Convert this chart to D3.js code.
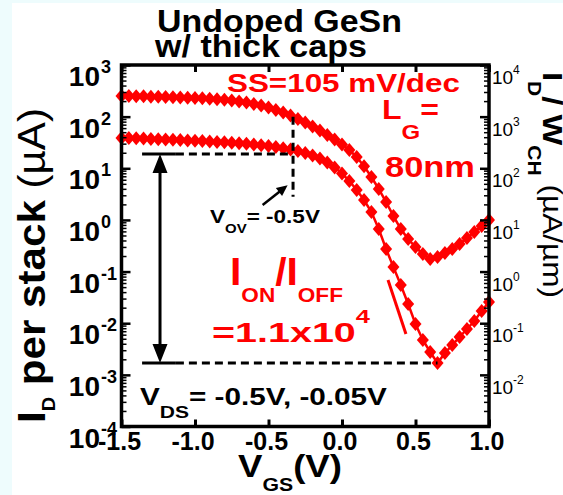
<!DOCTYPE html>
<html>
<head>
<meta charset="utf-8">
<script src="https://cdn.jsdelivr.net/npm/d3@7"></script>
<style>
body { margin: 0; background: #fff; }
svg text { font-family: "Liberation Sans", Arial, sans-serif; white-space: pre; }
</style>
</head>
<body>
<script>
// VGS (V)
const vgs = [-1.5, -1.45, -1.4, -1.35, -1.3, -1.25, -1.2, -1.15, -1.1, -1.05,
             -1.0, -0.95, -0.9, -0.85, -0.8, -0.75, -0.7, -0.65, -0.6, -0.55,
             -0.5, -0.45, -0.4, -0.35, -0.3, -0.25, -0.2, -0.15, -0.1, -0.05,
             0.0, 0.05, 0.1, 0.15, 0.2, 0.25, 0.3, 0.35, 0.4, 0.45,
             0.5, 0.55, 0.6, 0.65, 0.7, 0.75, 0.8, 0.85, 0.9, 0.95, 1.0];

// ID per stack (uA), VDS = -0.5V
const idHigh = [251, 251, 249, 247, 244, 242, 240, 238, 236, 233,
                230, 226, 222, 218, 212, 205, 196, 188, 176, 164,
                150, 135, 120, 105, 90.0, 77.0, 64.5, 54.0, 44.1, 36.0,
                28.8, 22.6, 16.5, 11.0, 6.77, 3.97, 2.22, 1.19, 0.667, 0.427,
                0.299, 0.219, 0.175, 0.191, 0.229, 0.273, 0.342, 0.447, 0.583, 0.762, 1.00];

// ID per stack (uA), VDS = -0.05V
const idLow = [38.5, 38.5, 38.1, 37.6, 37.1, 36.6, 36.1, 35.6, 35.1, 34.7,
               34.2, 33.6, 33.0, 32.4, 31.9, 31.1, 30.5, 29.7, 28.9, 28.0,
               27.0, 25.8, 24.5, 23.1, 21.6, 19.8, 17.7, 15.5, 12.9, 10.4,
               7.92, 5.67, 3.80, 2.43, 1.42, 0.667, 0.273, 0.122, 0.0549, 0.0235,
               0.00966, 0.00473, 0.00277, 0.00169, 0.00265, 0.00378, 0.00541, 0.00773, 0.0110, 0.0173, 0.0258];

// Graduations
const xTicks = [-1.5, -1.0, -0.5, 0.0, 0.5, 1.0];
const xTickLabels = ["-1.5", "-1.0", "-0.5", "0.0", "0.5", "1.0"];
const yLeftExp = [3, 2, 1, 0, -1, -2, -3, -4];
const yRightExp = [4, 3, 2, 1, 0, -1, -2];

// Annotations
const ionIoff = [18.9, 0.00169];
const vovGate = -0.333;
const vovTop = 100;
const vovBottom = 2.8;
const vovArrow = [[-0.54, 1.95], [-0.37, 4.7]];
const arrowGate = -1.238;
const lineStart = -1.36;
const solidEnd = -1.13;
const ioffEnd = 0.65;
const ssLine = [[0.313, 0.0687], [0.435, 0.00618]];

const rouge = "#ff0000";

let svg = d3.select("body").append("svg")
    .attr("width", 563)
    .attr("height", 495);

// fond : bande cyan a gauche et en haut
svg.append("rect").attr("width", 563).attr("height", 495).attr("fill", "#eefcfd");
svg.append("rect").attr("x", 12).attr("y", 3).attr("width", 551).attr("height", 492).attr("fill", "#fff");

let x = d3.scaleLinear().domain([-1.5, 1.0]).range([121.5, 489]);
let y = d3.scaleLog().domain([1e-4, 1e3]).range([426.5, 65]);
let yR = d3.scaleLog().domain([1e-3, 1e4]).range([426.5, 65]);

// courbes : une ligne + des losanges
let g = svg.append("g");
[idHigh, idLow].forEach(function(serie) {
    g.append("path")
        .attr("d", d3.line()(vgs.map((v, i) => [x(v), y(serie[i])])))
        .attr("fill", "none")
        .attr("stroke", rouge)
        .attr("stroke-width", 2.5);
    g.append("g").selectAll("path").data(vgs).enter()
        .append("path")
        .attr("d", "M0,-7L6,0L0,7L-6,0Z")
        .attr("transform", (v, i) => "translate(" + x(v) + "," + y(serie[i]) + ")")
        .attr("fill", rouge);
});

// ligne de pente SS
svg.append("line")
    .attr("x1", x(ssLine[0][0])).attr("y1", y(ssLine[0][1]))
    .attr("x2", x(ssLine[1][0])).attr("y2", y(ssLine[1][1]))
    .attr("stroke", rouge).attr("stroke-width", 3);

// axes
function minors(lo, hi) {
    let m = [];
    for (let e = lo; e < hi; e++) for (let k = 2; k < 10; k++) m.push(k * Math.pow(10, e));
    return m;
}
function styleAxe(sel, w) {
    sel.select(".domain").remove();
    sel.selectAll("line").attr("stroke", "#000").attr("stroke-width", w);
}
svg.append("g").attr("transform", "translate(121.5,0)")
    .call(d3.axisLeft(y).tickValues(yLeftExp.map(e => Math.pow(10, e))).tickSize(-9).tickFormat(""))
    .call(styleAxe, 2.5);
svg.append("g").attr("transform", "translate(121.5,0)")
    .call(d3.axisLeft(y).tickValues(minors(-4, 3)).tickSize(-5).tickFormat(""))
    .call(styleAxe, 1.5);
svg.append("g").attr("transform", "translate(489,0)")
    .call(d3.axisRight(yR).tickValues(yRightExp.map(e => Math.pow(10, e))).tickSize(-9).tickFormat(""))
    .call(styleAxe, 2.5);
svg.append("g").attr("transform", "translate(489,0)")
    .call(d3.axisRight(yR).tickValues(minors(-3, 4)).tickSize(-5).tickFormat(""))
    .call(styleAxe, 1.5);
svg.append("g").attr("transform", "translate(0,426.5)")
    .call(d3.axisBottom(x).tickValues(xTicks).tickSize(-7).tickFormat(""))
    .call(styleAxe, 3);
svg.append("g").attr("transform", "translate(0,65)")
    .call(d3.axisTop(x).tickValues(xTicks).tickSize(-7).tickFormat(""))
    .call(styleAxe, 3);

// cadre
svg.append("rect")
    .attr("x", 121.5).attr("y", 65)
    .attr("width", 489 - 121.5).attr("height", 426.5 - 65)
    .attr("fill", "none").attr("stroke", "#000").attr("stroke-width", 3.5);

// etiquettes des graduations
svg.selectAll(".xlab").data(xTicks).enter().append("text")
    .attr("x", d => x(d) - 2).attr("y", 450)
    .attr("text-anchor", "middle").attr("font-size", 25).attr("font-weight", "bold")
    .text((d, i) => xTickLabels[i]);

yLeftExp.forEach(function(e) {
    let ty = y(Math.pow(10, e));
    svg.append("text").attr("x", 100).attr("y", ty + 21)
        .attr("text-anchor", "end").attr("font-size", 28).attr("font-weight", "bold").text("10");
    svg.append("text").attr("x", 101).attr("y", ty + 8)
        .attr("font-size", 18).attr("font-weight", "bold").text(e);
});
yRightExp.forEach(function(e) {
    let ty = yR(Math.pow(10, e));
    svg.append("text").attr("x", 492).attr("y", ty + 19)
        .attr("font-size", 19).text("10");
    svg.append("text").attr("x", 513).attr("y", ty + 9)
        .attr("font-size", 12).text(e);
});

// texte compose (indices / exposants), etire a la longueur voulue
function texte(parts, o) {
    let t = svg.append("text").attr("fill", o.fill || "#000");
    let prev = 0;
    parts.forEach(function(p) {
        t.append("tspan").text(p[0])
            .attr("font-size", p[1])
            .attr("dy", p[2] - prev)
            .attr("font-weight", p[3] || "bold");
        prev = p[2];
    });
    let s = o.len ? o.len / t.node().getComputedTextLength() : 1;
    t.attr("transform", "translate(" + o.x + "," + o.y + ")" + (o.rot ? " rotate(" + o.rot + ")" : "") + " scale(" + s + ",1)");
    return t;
}

texte([["Undoped GeSn", 32, 0]], {x: 157, y: 32, len: 245});
texte([["w/ thick caps", 32, 0]], {x: 155, y: 57, len: 212});
texte([["SS=105 mV/dec", 26, 0]], {x: 227, y: 92, len: 233, fill: rouge});
texte([["L", 28, 0], ["G", 21, 20], ["=", 28, 0]], {x: 382, y: 119, len: 57, fill: rouge});
texte([["80nm", 30, 0]], {x: 385, y: 177, len: 90, fill: rouge});
texte([["I", 38, 0], ["ON", 21, 17], ["/", 38, 0], ["I", 38, 0], ["OFF", 21, 17]], {x: 230, y: 285, len: 113, fill: rouge});
texte([["=1.1x10", 28, 0], ["4", 18, -19]], {x: 212, y: 342, len: 158, fill: rouge});
texte([["V", 18, 0], ["OV", 12, 10], ["= -0.5V", 18, 0]], {x: 210, y: 223, len: 110});
texte([["V", 24, 0], ["DS", 17, 13], ["= -0.5V, -0.05V", 24, 0]], {x: 140, y: 405, len: 247});
texte([["V", 31, 0], ["GS", 18, 14], ["(V)", 31, 0]], {x: 238, y: 477, len: 104});
texte([["I", 38, 0], ["D", 18, 10], [" per stack ", 38, 0], ["(\u00b5A)", 38, 0, "normal"]], {x: 45, y: 423, rot: -90, len: 315});
texte([["I", 28, 0], ["D", 18, 15], ["/ W", 28, 0], ["CH", 18, 15], [" (\u00b5A/\u00b5m)", 27, 0, "normal"]], {x: 543, y: 72, rot: 90, len: 226});

// lignes pointillees I_ON / I_OFF et V_OV
function ligne(x1, y1, x2, y2, dash) {
    return svg.append("line")
        .attr("x1", x1).attr("y1", y1).attr("x2", x2).attr("y2", y2)
        .attr("stroke", "#000").attr("stroke-width", 3)
        .attr("stroke-dasharray", dash ? "8,5" : null);
}
ligne(x(solidEnd), y(ionIoff[0]), x(vovGate), y(ionIoff[0]), true);
ligne(x(solidEnd), y(ionIoff[1]), x(ioffEnd), y(ionIoff[1]), true);
ligne(x(lineStart), y(ionIoff[0]), x(solidEnd), y(ionIoff[0]), false);
ligne(x(lineStart), y(ionIoff[1]), x(solidEnd), y(ionIoff[1]), false);
ligne(x(vovGate), y(vovTop), x(vovGate), y(vovBottom), true);

// double fleche
let ax = x(arrowGate), yTop = y(ionIoff[0]), yBot = y(ionIoff[1]);
ligne(ax, yTop + 14, ax, yBot - 14, false);
svg.append("path")
    .attr("d", "M" + ax + "," + yTop + "l7.5,19h-15Z M" + ax + "," + yBot + "l7.5,-19h-15Z")
    .attr("fill", "#000");

// fleche V_OV
let p0 = [x(vovArrow[0][0]), y(vovArrow[0][1])];
let p1 = [x(vovArrow[1][0]), y(vovArrow[1][1])];
let ang = Math.atan2(p1[1] - p0[1], p1[0] - p0[0]);
ligne(p0[0], p0[1], p1[0] - 8 * Math.cos(ang), p1[1] - 8 * Math.sin(ang), false).attr("stroke-width", 2.5);
let tete = [[0, 0], [-11, -5], [-11, 5]].map(function(q) {
    return [p1[0] + q[0] * Math.cos(ang) - q[1] * Math.sin(ang), p1[1] + q[0] * Math.sin(ang) + q[1] * Math.cos(ang)];
});
svg.append("path").attr("d", "M" + tete.join("L") + "Z").attr("fill", "#000");
</script>
</body>
</html>
